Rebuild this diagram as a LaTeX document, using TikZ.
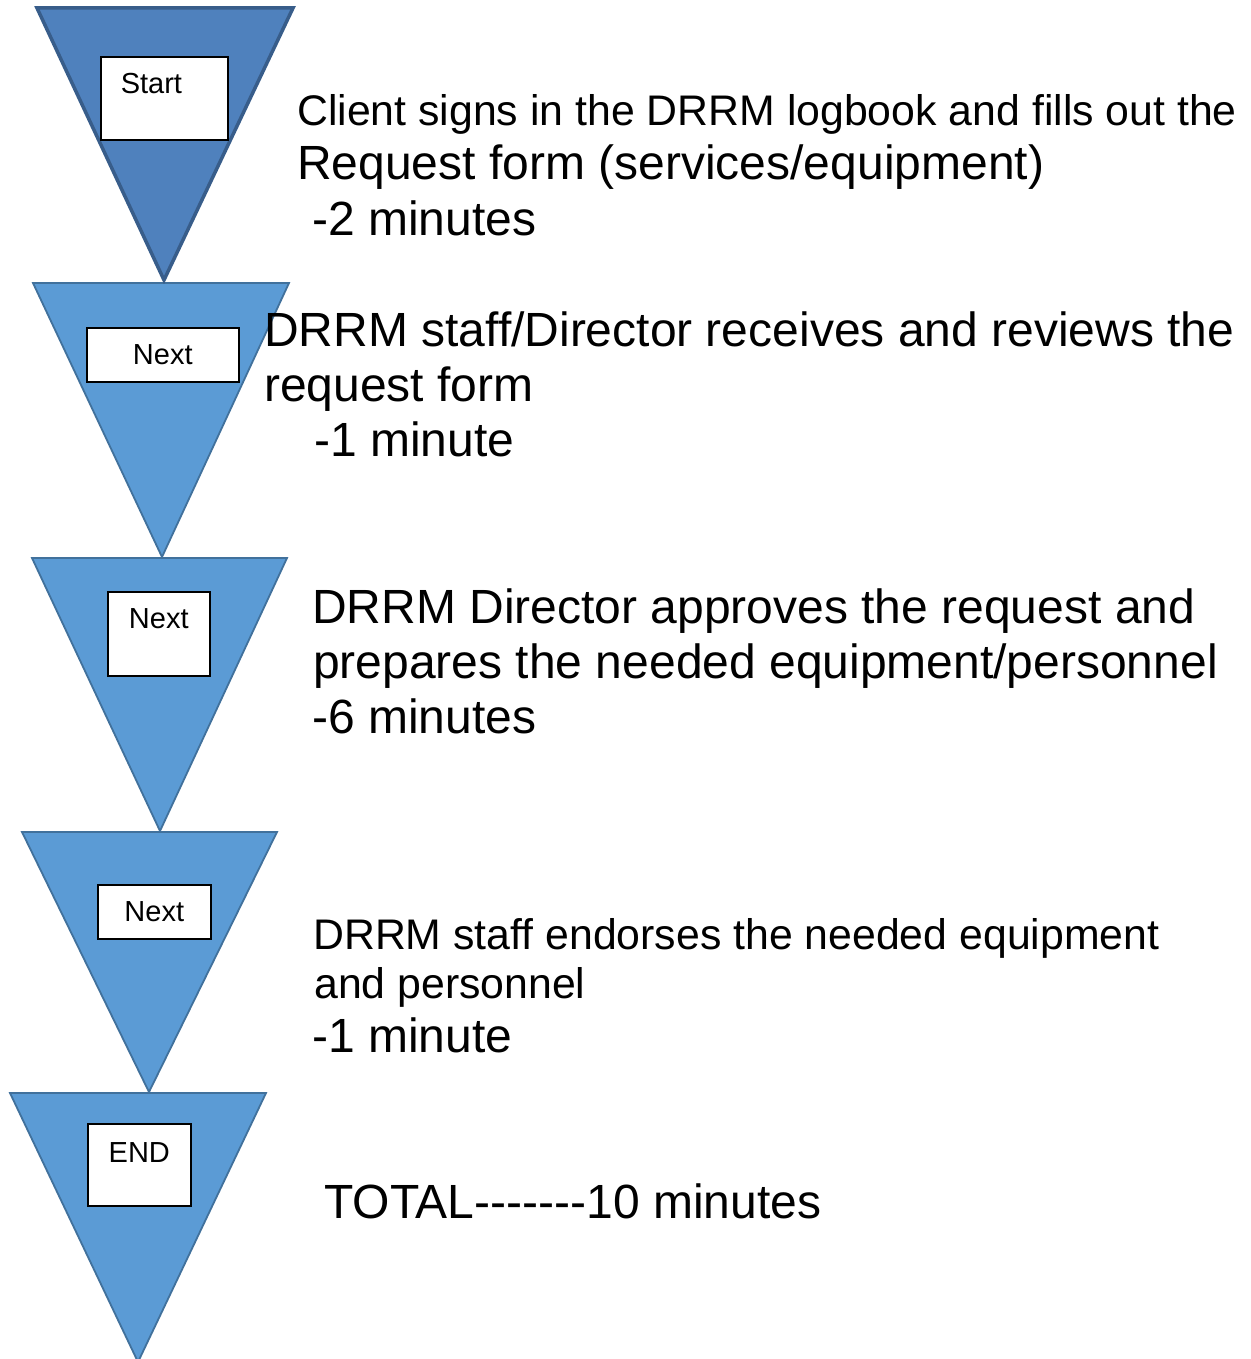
\documentclass[tikz,border=0pt]{standalone}
\usepackage{fontspec}
\setmainfont{Liberation Sans}
\definecolor{triA}{HTML}{4F81BD}
\definecolor{triAline}{HTML}{385D8A}
\definecolor{triB}{HTML}{5B9BD5}
\definecolor{triBline}{HTML}{41719C}
\newcommand{\hy}{\mbox{-}}
\tikzset{
  firsttri/.style={fill=triA, draw=triAline, line width=3.5pt, line join=miter},
  steptri/.style={fill=triB, draw=triBline, line width=1.8pt, line join=miter},
  stepbox/.style={draw=black, line width=1.6pt, fill=white, inner sep=0pt, anchor=north west,
    align=center, font=\fontsize{29}{33}\selectfont},
  bigtxt/.style={anchor=base west, inner sep=0pt, font=\fontsize{48}{56}\selectfont},
  midtxt/.style={anchor=base west, inner sep=0pt, font=\fontsize{42.8}{50}\selectfont},
}
\begin{document}
\begin{tikzpicture}[x=1pt, y=-1pt]
\useasboundingbox (0,0) rectangle (1250,1359);
\fill[white] (0,0) rectangle (1250,1359);
% triangle corners
\coordinate (a1) at (37,8);   \coordinate (b1) at (293,8);   \coordinate (c1) at (164,280);
\coordinate (a2) at (33,283); \coordinate (b2) at (289,283); \coordinate (c2) at (162,557);
\coordinate (a3) at (32,558); \coordinate (b3) at (287,558); \coordinate (c3) at (160,831);
\coordinate (a4) at (22,832); \coordinate (b4) at (277,832); \coordinate (c4) at (149,1092);
\coordinate (a5) at (10,1093); \coordinate (b5) at (266,1093); \coordinate (c5) at (138,1362);
% triangles
\path[steptri] (a5) -- (b5) -- (c5) -- cycle;
\path[steptri] (a4) -- (b4) -- (c4) -- cycle;
\path[steptri] (a3) -- (b3) -- (c3) -- cycle;
\path[steptri] (a2) -- (b2) -- (c2) -- cycle;
\path[firsttri] (a1) -- (b1) -- (c1) -- cycle;
% boxes
\node[stepbox, align=left, text width=127pt, text height=37pt, text depth=46pt] (start) at (100,56) {\hspace*{20pt}Start};
\node[stepbox, text width=152pt, text height=37pt, text depth=17pt] (next1) at (86,327) {Next};
\node[stepbox, text width=102pt, text height=37pt, text depth=47pt] (next2) at (107,591) {Next};
\node[stepbox, text width=113pt, text height=37pt, text depth=17pt] (next3) at (97,884) {Next};
\node[stepbox, text width=103pt, text height=39pt, text depth=43pt] (endbox) at (87,1123) {END};
% step texts
\node[midtxt] (s1a) at (297,126) {Client signs in the DRRM logbook and fills out the};
\node[bigtxt] (s1b) at (297,180) {Request form (services/equipment)};
\node[bigtxt] (s1c) at (312,235) {-2 minutes};
\node[bigtxt] (s2a) at (264,346) {DRRM staff/Director receives and reviews the};
\node[bigtxt] (s2b) at (264,401) {request form};
\node[bigtxt] (s2c) at (314,456) {-1 minute};
\node[bigtxt] (s3a) at (312,623) {DRRM Director approves the request and};
\node[bigtxt] (s3b) at (313,678) {prepares the needed equipment/personnel};
\node[bigtxt] (s3c) at (312,733) {-6 minutes};
\node[midtxt] (s4a) at (313,949) {DRRM staff endorses the needed equipment};
\node[midtxt] (s4b) at (314,998) {and personnel};
\node[bigtxt] (s4c) at (312,1052) {-1 minute};
\node[bigtxt] (total) at (324,1218) {TOTAL\hy\hy\hy\hy\hy\hy\hy10 minutes};
\end{tikzpicture}
\end{document}
